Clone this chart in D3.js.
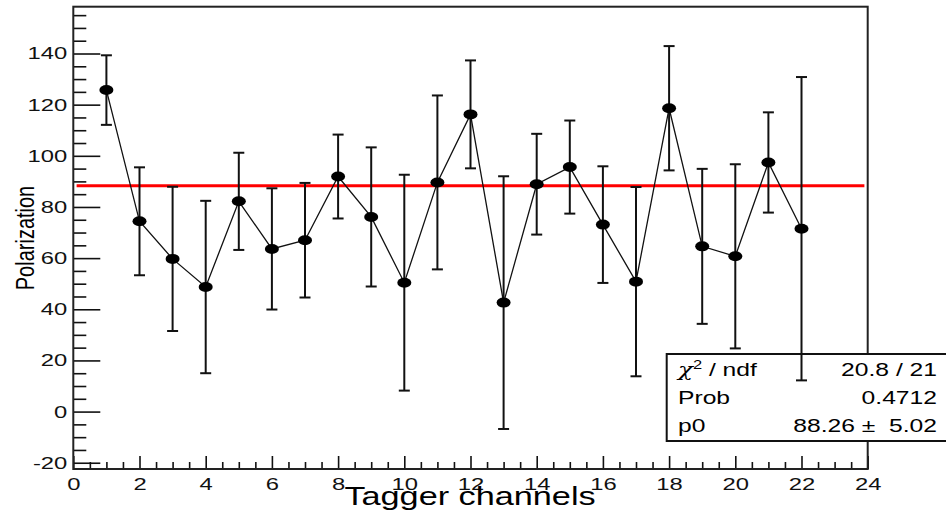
<!DOCTYPE html>
<html>
<head>
<meta charset="utf-8">
<script src="https://cdn.jsdelivr.net/npm/d3@7"></script>
<style>
  body { margin: 0; background: #fff; }
  svg { display: block; font-family: "Liberation Sans", Arial, sans-serif; }
</style>
</head>
<body>
<svg width="946" height="513"></svg>
<script>
// data
var channels = [1, 2, 3, 4, 5, 6, 7, 8, 9, 10, 11, 12, 13, 14, 15, 16, 17, 18, 19, 20, 21, 22]
var polarization = [125.7, 74.4, 59.7, 48.7, 82.2, 63.6, 67.0, 91.9, 76.1, 50.4, 89.6,
    116.2, 42.6, 88.9, 95.6, 73.1, 50.8, 118.6, 64.6, 60.7, 97.4, 71.5]
var errors = [13.6, 21.1, 28.2, 33.7, 19.0, 23.7, 22.4, 16.4, 27.2, 42.2, 34.0,
    21.1, 49.4, 19.7, 18.2, 22.8, 37.0, 24.3, 30.3, 36.0, 19.6, 59.3]
var fitValue = 88.26
var xTicks = [0, 2, 4, 6, 8, 10, 12, 14, 16, 18, 20, 22, 24]
var yTicks = [-20, 0, 20, 40, 60, 80, 100, 120, 140]
var statLabels = ['χ2 / ndf', 'Prob', 'p0']
var statValues = ['20.8 / 21', '0.4712', '88.26 \u00b1  5.02']

var svg = d3.select('svg')
var stretch = 1.4 // the picture is wider than tall text would suggest

var frame = { left: 73.3, right: 867.7, top: 6.7, bottom: 469 }

var x = d3.scaleLinear()
    .domain([0, 24])
    .range([frame.left, frame.right])

var y = d3.scaleLinear()
    .domain([-22.45, 158.3])
    .range([frame.bottom, frame.top])

// minor ticks
var xMinor = d3.range(0, 24.01, 0.5).filter(v => v % 2 !== 0)
var yMinor = d3.range(-20, 156, 5).filter(v => v % 20 !== 0)

svg.append('g')
    .attr('transform', 'translate(0,' + frame.bottom + ')')
    .call(d3.axisBottom(x).tickValues(xMinor).tickSize(-7).tickFormat(''))
    .call(g => g.select('.domain').remove())

svg.append('g')
    .attr('transform', 'translate(' + frame.left + ',0)')
    .call(d3.axisLeft(y).tickValues(yMinor).tickSize(-13).tickFormat(''))
    .call(g => g.select('.domain').remove())

// major ticks
var xAxis = svg.append('g')
    .attr('transform', 'translate(0,' + frame.bottom + ')')
    .call(d3.axisBottom(x).tickValues(xTicks).tickSize(-13).tickPadding(9)
        .tickSizeOuter(0).tickFormat(d => String(d)))
xAxis.select('.domain').remove()

var yAxis = svg.append('g')
    .attr('transform', 'translate(' + frame.left + ',0)')
    .call(d3.axisLeft(y).tickValues(yTicks).tickSize(-27).tickPadding(6)
        .tickSizeOuter(0).tickFormat(d => String(d)))
yAxis.select('.domain').remove()

svg.selectAll('.tick line')
    .attr('stroke', '#111')
    .attr('stroke-width', 1.6)

svg.selectAll('.tick text')
    .style('font-size', '17px')
    .attr('fill', '#111')
    .attr('x', function () { return +d3.select(this).attr('x') / stretch })
    .attr('transform', 'scale(' + stretch + ',1)')

// frame
svg.append('rect')
    .attr('x', frame.left)
    .attr('y', frame.top)
    .attr('width', frame.right - frame.left)
    .attr('height', frame.bottom - frame.top)
    .attr('fill', 'none')
    .attr('stroke', '#222')
    .attr('stroke-width', 2)

// fit line
svg.append('line')
    .attr('x1', x(0.1))
    .attr('x2', x(23.9))
    .attr('y1', y(fitValue))
    .attr('y2', y(fitValue))
    .attr('stroke', '#ff0000')
    .attr('stroke-width', 3)

// stats box
svg.append('rect')
    .attr('x', 666.7)
    .attr('y', 354)
    .attr('width', 300)
    .attr('height', 87)
    .attr('fill', '#fff')
    .attr('stroke', '#111')
    .attr('stroke-width', 2)

statLabels.forEach(function (s, i) {
    var t = svg.append('text')
        .attr('transform', 'translate(678,' + (376 + i * 28) + ') scale(1.37,1)')
        .style('font-size', '18px')
    if (i === 0) {
        t.append('tspan').text('χ').style('font-family', '"DejaVu Serif", serif').style('font-style', 'italic')
        t.append('tspan').text('2').attr('dy', -7).style('font-size', '12px')
        t.append('tspan').text(' / ndf').attr('dy', 7)
    } else {
        t.text(s)
    }
})

statValues.forEach(function (s, i) {
    svg.append('text')
        .attr('transform', 'translate(937,' + (376 + i * 28) + ') scale(1.37,1)')
        .attr('text-anchor', 'end')
        .style('font-size', '18px')
        .style('white-space', 'pre')
        .text(s)
})

// graph
var pts = channels.map((c, i) => ({ c: c, v: polarization[i], e: errors[i] }))

svg.append('path')
    .datum(pts)
    .attr('fill', 'none')
    .attr('stroke', '#111')
    .attr('stroke-width', 1.3)
    .attr('d', d3.line().x(d => x(d.c)).y(d => y(d.v)))

var bars = svg.append('g')
    .attr('stroke', '#111')
    .attr('stroke-width', 2)
    .selectAll('g')
    .data(pts)
    .enter()
    .append('g')

bars.append('line')
    .attr('x1', d => x(d.c))
    .attr('x2', d => x(d.c))
    .attr('y1', d => y(d.v + d.e))
    .attr('y2', d => y(d.v - d.e))

bars.append('line')
    .attr('x1', d => x(d.c) - 5.5)
    .attr('x2', d => x(d.c) + 5.5)
    .attr('y1', d => y(d.v + d.e))
    .attr('y2', d => y(d.v + d.e))

bars.append('line')
    .attr('x1', d => x(d.c) - 5.5)
    .attr('x2', d => x(d.c) + 5.5)
    .attr('y1', d => y(d.v - d.e))
    .attr('y2', d => y(d.v - d.e))

svg.append('g')
    .selectAll('ellipse')
    .data(pts)
    .enter()
    .append('ellipse')
    .attr('cx', d => x(d.c))
    .attr('cy', d => y(d.v))
    .attr('rx', 7)
    .attr('ry', 5)
    .attr('fill', '#000')

// axis titles
svg.append('text')
    .attr('transform', 'translate(470,505) scale(1.37,1)')
    .attr('text-anchor', 'middle')
    .style('font-size', '25px')
    .text('Tagger channels')

svg.append('text')
    .attr('transform', 'translate(34,238) scale(1.25,1) rotate(-90)')
    .attr('text-anchor', 'middle')
    .style('font-size', '20px')
    .text('Polarization')
</script>
</body>
</html>
